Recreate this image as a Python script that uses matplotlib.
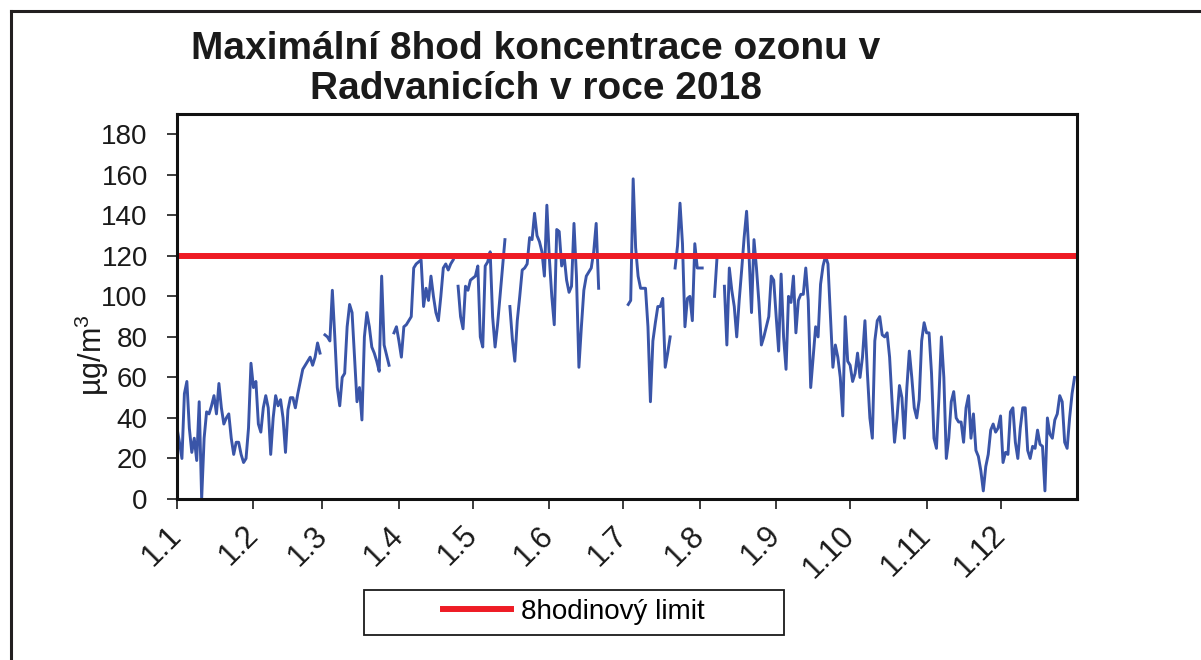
import numpy as np
import pandas as pd
import matplotlib
matplotlib.use("Agg")
import matplotlib.pyplot as plt
from matplotlib.lines import Line2D
from matplotlib.patches import Rectangle

plt.rcParams['font.family'] = ['Liberation Sans', 'DejaVu Sans']
plt.rcParams['mathtext.fontset'] = 'custom'
plt.rcParams['mathtext.rm'] = 'Liberation Sans'
plt.rcParams['mathtext.it'] = 'Liberation Sans'

nan = np.nan
# Daily maximum 8-hour ozone concentrations (µg/m³), Radvanice 2018
jan = [35, 28, 20, 52, 58, 35, 23, 30, 19, 48, 0, 30, 43, 42, 46, 51, 42, 57, 45, 37,
       40, 42, 30, 22, 28, 28, 22, 18, 20, 35, 67]
feb = [55, 58, 37, 33, 45, 51, 45, 22, 40, 51, 46, 49, 40, 23, 44, 50, 50, 45, 52, 58,
       64, 66, 68, 70, 66, 70, 77, 72]
mar = [nan, 81, 80, 78, 103, 80, 55, 46, 60, 62, 85, 96, 92, 70, 48, 55, 39, 80, 92, 85,
       75, 72, 68, 63, 110, 76, 71, 66, nan, 82, 85]
apr = [78, 70, 85, 86, 88, 90, 114, 116, 117, 118, 95, 104, 98, 110, 100, 92, 88, 100, 114, 116,
       113, 116, 118, nan, 105, 90, 84, 105, 103, 108]
may = [109, 110, 115, 80, 75, 115, 117, 122, 90, 75, 86, 100, 114, 128, nan, 95, 79, 68, 88, 100,
       113, 114, 116, 129, 128, 141, 130, 127, 122, 110, 145]
jun = [119, 100, 86, 133, 132, 115, 120, 108, 102, 105, 136, 110, 65, 85, 103, 110, 112, 114, 122, 136,
       104, nan, nan, nan, nan, nan, nan, nan, nan, nan]
jul = [nan, nan, 96, 98, 158, 124, 110, 104, 104, 104, 85, 48, 78, 87, 95, 95, 99, 65, 72, 80,
       nan, 114, 125, 146, 126, 85, 99, 100, 88, 126, 114]
aug = [114, 114, nan, nan, nan, nan, 100, 119, nan, nan, 105, 76, 114, 103, 95, 80, 98, 113, 129, 142,
       120, 92, 128, 114, 97, 76, 80, 85, 90, 110, 108]
sep = [90, 73, 111, 80, 64, 100, 97, 110, 82, 98, 101, 101, 114, 98, 55, 70, 85, 80, 106, 115,
       120, 116, 90, 65, 76, 70, 60, 41, 90, 68]
oct_ = [66, 58, 62, 72, 60, 70, 88, 62, 40, 30, 78, 88, 90, 81, 80, 82, 70, 48, 28, 40,
        56, 50, 30, 55, 73, 60, 45, 40, 49, 78, 87]
nov = [82, 82, 62, 30, 25, 50, 80, 60, 20, 30, 48, 53, 40, 38, 38, 28, 45, 51, 30, 42,
       24, 21, 14, 4, 16, 22, 34, 37, 33, 35]
dec = [41, 18, 23, 22, 43, 45, 28, 20, 35, 45, 45, 24, 20, 26, 25, 34, 27, 26, 4, 40,
       32, 30, 39, 42, 51, 48, 28, 25, 40, 52, 60]

limit_value = 120
limit_label = '8hodinový limit'
tick_labels = ['1.1', '1.2', '1.3', '1.4', '1.5', '1.6', '1.7', '1.8', '1.9', '1.10', '1.11', '1.12']
y_ticks = list(range(0, 181, 20))
title = 'Maximální 8hod koncentrace ozonu v\nRadvanicích v roce 2018'
y_label = 'µg/m$^3$'

values = np.array(jan + feb + mar + apr + may + jun + jul + aug + sep + oct_ + nov + dec, dtype=float)
dates = pd.date_range('2018-01-01', periods=len(values), freq='D')

W, H = 1201, 660
fig = plt.figure(figsize=(W / 100, H / 100), dpi=100)
fig.patch.set_facecolor('white')

ax = fig.add_axes([177 / W, 1 - 499 / H, 900 / W, 385 / H])
ax.plot(dates, values, color='#3a55a8', lw=2.1, solid_joinstyle='round')
limit_line = ax.axhline(limit_value, color='#ee1c25', lw=4.3, label=limit_label)

ax.set_xlim(pd.Timestamp('2018-01-01'), pd.Timestamp('2019-01-01'))
ax.set_ylim(0, 190)
ax.set_yticks(y_ticks)
ax.set_yticklabels([str(v) for v in y_ticks], fontsize=20)
month_starts = pd.date_range('2018-01-01', periods=12, freq='MS')
ax.set_xticks(month_starts)
ax.set_xticklabels(tick_labels, fontsize=22, rotation=45, ha='right', va='center',
                   rotation_mode='anchor')
ax.tick_params(axis='y', direction='out', length=7, width=1.2, pad=14, colors='#1a1a1a')
ax.tick_params(axis='x', direction='out', length=7, width=1.2, pad=16, colors='#1a1a1a')
for lbl in ax.get_xticklabels():
    lbl.set_x(lbl.get_position()[0])
for sp in ax.spines.values():
    sp.set_linewidth(2.2)
    sp.set_color('#111111')

# outer chart frame
fig.add_artist(Line2D([11 / W, 11 / W], [0, 1 - 11 / H], transform=fig.transFigure,
                      color='#231f20', lw=2.2))
fig.add_artist(Line2D([11 / W, 1], [1 - 11 / H, 1 - 11 / H], transform=fig.transFigure,
                      color='#231f20', lw=2.2))

fig.text(536 / W, 1 - 69 / H, title, ha='center', va='center', fontsize=28,
         fontweight='bold', color='#1a1a1a', linespacing=1.12)
fig.text(92 / W, 1 - 355 / H, y_label, rotation=90, ha='center', va='center',
         fontsize=22, color='#1a1a1a')

# legend box
fig.add_artist(Rectangle((364 / W, 1 - 635 / H), 420 / W, 45 / H, transform=fig.transFigure,
                         fill=False, edgecolor='#1a1a1a', lw=1.3))
fig.legend(handles=[limit_line], labels=[limit_label], loc='center',
           bbox_to_anchor=(574 / W, 1 - 612 / H), frameon=False, fontsize=20,
           handlelength=2.45, handletextpad=0.35, borderpad=0)

fig.savefig('out.png', dpi=100)
